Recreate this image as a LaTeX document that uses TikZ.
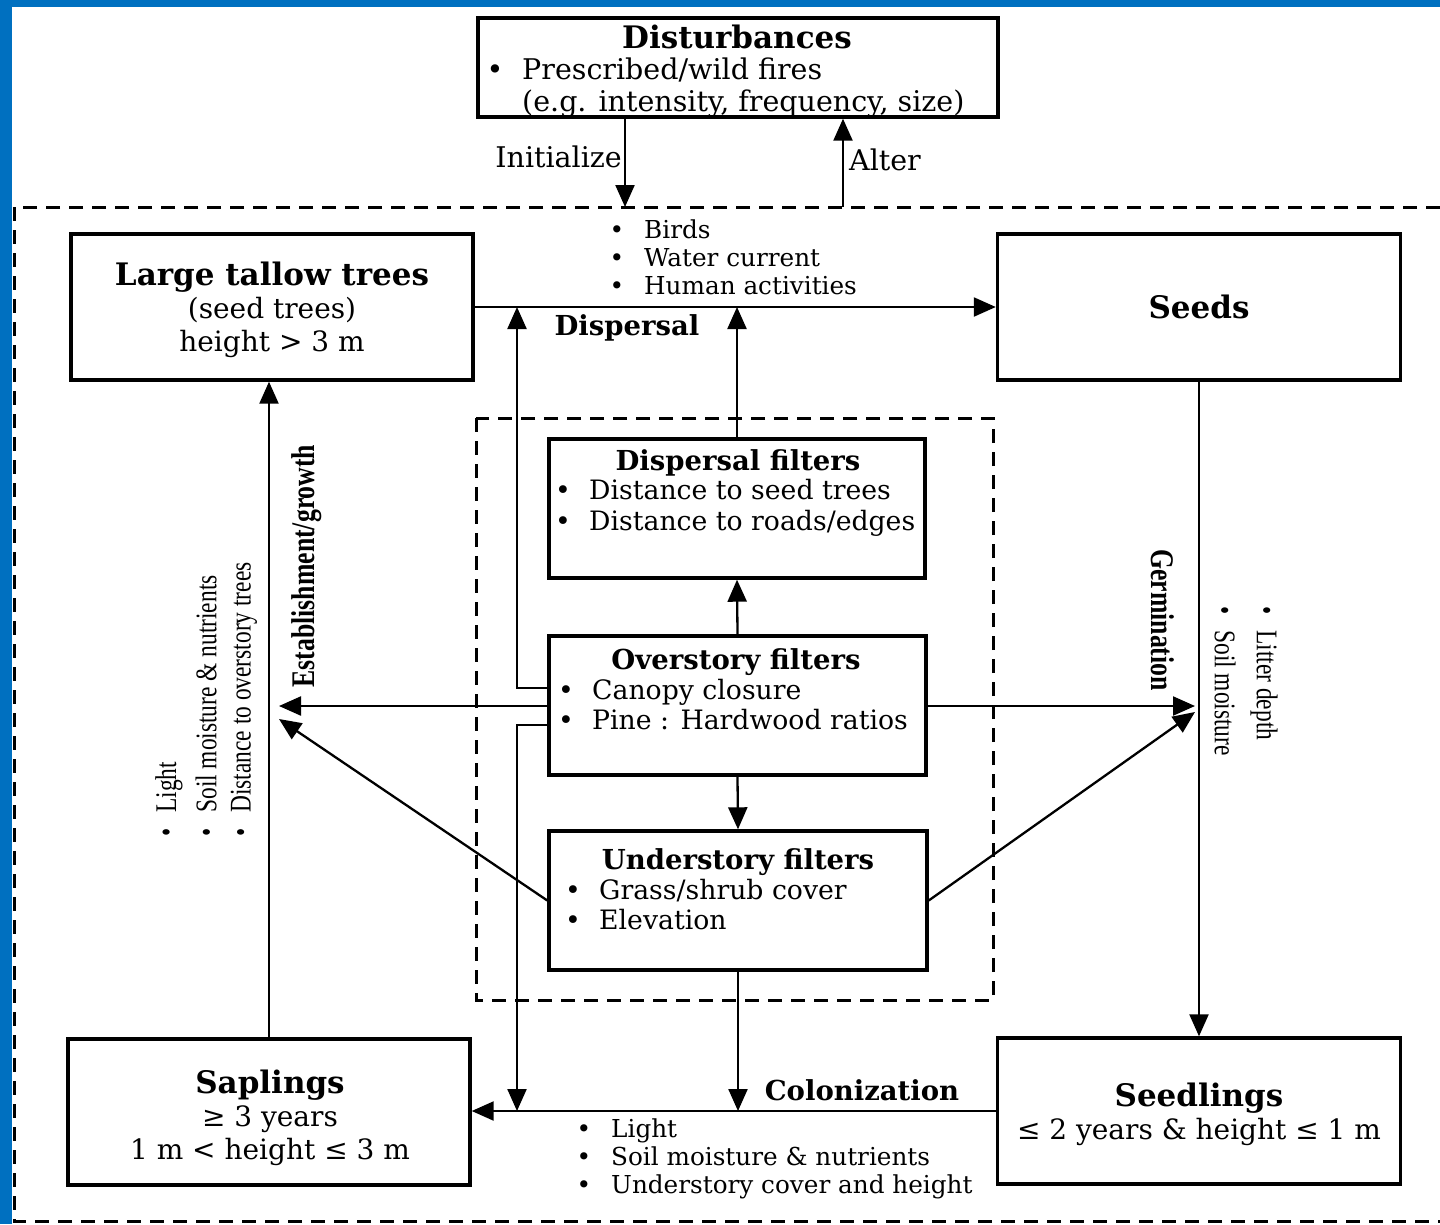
\documentclass[tikz,border=0pt]{standalone}
\usepackage{fontspec}
\setmainfont{DejaVu Serif}
\newfontfamily\tnr[FakeStretch=0.78]{Liberation Serif}
\usetikzlibrary{arrows.meta}
\definecolor{frameblue}{RGB}{0,112,192}
\begin{document}
\begin{tikzpicture}[x=1pt,y=-1pt,
  box/.style={draw, line width=3.4pt, inner sep=0pt, align=center, font={\fontsize{28}{33}\selectfont}},
  conn/.style={line width=2.3pt, -{Triangle[length=22pt,width=19pt]}},
  dashbox/.style={line width=3pt, dash pattern=on 14pt off 9pt},
  txt/.style={inner sep=0pt, anchor=west, font={\fontsize{26.7}{32}\selectfont}, text height=25pt, text depth=6pt},
  bul/.style={inner sep=0pt, font={\fontsize{26.7}{32}\selectfont}, text height=25pt, text depth=6pt},
  big/.style={font={\fontsize{28.5}{33}\selectfont}},
  small/.style={font={\fontsize{24.7}{30}\selectfont}},
  ttl/.style={inner sep=0pt, font={\fontsize{27.5}{32}\selectfont\bfseries}},
  bigttl/.style={font={\fontsize{31}{34}\selectfont\bfseries}},
  btxt/.style={inner sep=0pt, align=center, font={\fontsize{28}{33}\selectfont}},
  rot/.style={inner sep=0pt, font={\tnr\fontsize{30}{36}\selectfont}},
  rotb/.style={inner sep=0pt, font={\tnr\fontsize{33}{38}\selectfont\bfseries}},
]
\useasboundingbox (0,0) rectangle (1440,1224);
% blue frame
\fill[frameblue] (0,0) rectangle (12,1224);
\fill[frameblue] (0,0) rectangle (1440,7);
% dashed regions
\draw[dashbox] (1440,207) -- (14,207) -- (14,1221) -- (1440,1221);
\draw[dashbox] (476,418) rectangle (993,1000);

% boxes
\node[box, minimum width=520pt, minimum height=99pt] (dist) at (738,67.5) {};
\node[box, minimum width=402pt, minimum height=146pt] (ltt) at (272,307) {};
\node[btxt] (lttT) at (272,309.5)
  {{\fontsize{31}{34}\selectfont\bfseries Large tallow trees}\\(seed trees)\\height > 3 m};
\node[box, minimum width=403pt, minimum height=146pt] (seeds) at (1199,307)
  {{\fontsize{31}{34}\selectfont\bfseries Seeds}};
\node[box, minimum width=376pt, minimum height=139pt] (dispf) at (737,508.5) {};
\node[box, minimum width=377pt, minimum height=139pt] (overf) at (737.5,705.5) {};
\node[box, minimum width=378pt, minimum height=139pt] (underf) at (738,900.5) {};
\node[box, minimum width=402pt, minimum height=146pt] (sapl) at (269,1112) {};
\node[box, minimum width=403pt, minimum height=146pt] (seedl) at (1199,1111) {};
\node[btxt] (saplT) at (270,1117.5)
  {{\fontsize{31}{34}\selectfont\bfseries Saplings}\\≥ 3 years\\1 m < height ≤ 3 m};
\node[btxt] (seedlT) at (1199,1114.5)
  {{\fontsize{31}{34}\selectfont\bfseries Seedlings}\\≤ 2 years \& height ≤ 1 m};

% box texts
\node[ttl, bigttl] (distT) at (737,37) {Disturbances};
\node[bul, big] (distB) at (495,70) {•};
\node[txt, big] (distL1) at (522,70) {Prescribed/wild fires};
\node[txt, big] (distL2) at (522,102) {(e.g. intensity, frequency, size)};

\node[ttl] (dispfT) at (738,463) {Dispersal filters};
\node[bul] (dispfB1) at (563,490) {•};
\node[txt] (dispfL1) at (589,490) {Distance to seed trees};
\node[bul] (dispfB2) at (563,521) {•};
\node[txt] (dispfL2) at (589,521) {Distance to roads/edges};

\node[ttl] (overfT) at (736,662) {Overstory filters};
\node[bul] (overfB1) at (566,690) {•};
\node[txt] (overfL1) at (592,690) {Canopy closure};
\node[bul] (overfB2) at (566,720) {•};
\node[txt] (overfL2) at (592,720) {Pine : Hardwood ratios};

\node[ttl] (underfT) at (738,862) {Understory filters};
\node[bul] (underfB1) at (573,890) {•};
\node[txt] (underfL1) at (599,890) {Grass/shrub cover};
\node[bul] (underfB2) at (573,920) {•};
\node[txt] (underfL2) at (599,920) {Elevation};

% edge labels
\node[txt, big, anchor=east] (initL) at (622,158) {Initialize};
\node[txt, big] (altL) at (849,161) {Alter};

\node[bul, small] (dB1) at (617,229) {•};
\node[txt, small] (dL1) at (644,229) {Birds};
\node[bul, small] (dB2) at (617,257) {•};
\node[txt, small] (dL2) at (644,257) {Water current};
\node[bul, small] (dB3) at (617,285) {•};
\node[txt, small] (dL3) at (644,285) {Human activities};
\node[ttl] (dispL) at (627,328) {Dispersal};

\node[ttl] (colL) at (862,1090) {Colonization};
\node[bul, small] (cB1) at (584,1128) {•};
\node[txt, small] (cL1) at (611,1128) {Light};
\node[bul, small] (cB2) at (584,1156) {•};
\node[txt, small] (cL2) at (611,1156) {Soil moisture \& nutrients};
\node[bul, small] (cB3) at (584,1184) {•};
\node[txt, small] (cL3) at (611,1184) {Understory cover and height};

\node[rotb, rotate=90] (estL) at (307,566) {Establishment/growth};
\node[rot, rotate=90, anchor=west] (eL1) at (169,837) {•\hspace{16pt}Light};
\node[rot, rotate=90, anchor=west] (eL2) at (206,837) {•\hspace{16pt}Soil moisture \& nutrients};
\node[rot, rotate=90, anchor=west] (eL3) at (244,837) {•\hspace{16pt}Distance to overstory trees};

\node[rotb, rotate=-90] (germL) at (1163,620) {Germination};
\node[rot, rotate=-90, anchor=west] (gL1) at (1264,606) {•\hspace{16pt}Litter depth};
\node[rot, rotate=-90, anchor=west] (gL2) at (1225,606) {•\hspace{16pt}Soil moisture};

% connectors
\coordinate (initE) at (625,207);
\coordinate (altS) at (843,207);
\draw[conn] (dist.south -| initE) -- (initE);
\draw[conn] (altS) -- (dist.south -| altS);
\draw[conn] (ltt.east) -- (seeds.west |- ltt.east);
\draw[conn] (dispf.north) -- (dispf.north |- ltt.east);
\coordinate (lup) at (517,688);
\draw[conn] (overf.west |- lup) -- (lup) -- (lup |- ltt.east);
\coordinate (ldn) at (517,725);
\draw[conn] (overf.west |- ldn) -- (ldn) -- (ldn |- seedl.west);
\coordinate (estTip) at (279,706);
\draw[conn] (overf.west |- estTip) -- (estTip);
\coordinate (gerTip) at (1195,706);
\draw[conn] (overf.east |- gerTip) -- (gerTip);
\draw[conn] (overf.north) -- (dispf.south);
\draw[conn] (overf.south) -- (underf.north);
\coordinate (estTip2) at (279,719);
\coordinate (gerTip2) at (1195,712);
\draw[conn] (underf.west) -- (estTip2);
\draw[conn] (underf.east) -- (gerTip2);
\draw[conn] (underf.south) -- (underf.south |- seedl.west);
\draw[conn] (seedl.west) -- (sapl.east |- seedl.west);
\draw[conn] (sapl.north) -- (sapl.north |- ltt.south);
\draw[conn] (seeds.south) -- (seeds.south |- seedl.north);
\end{tikzpicture}
\end{document}
